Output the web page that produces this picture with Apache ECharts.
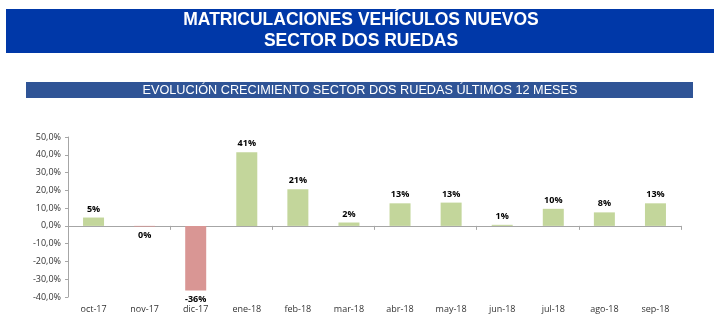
<!DOCTYPE html>
<html>
<head>
<meta charset="utf-8">
<script src="https://cdn.jsdelivr.net/npm/echarts@6/dist/echarts.min.js"></script>
<style>
  html, body { margin: 0; padding: 0; background: #ffffff; }
  #chart { width: 722px; height: 334px; }
</style>
</head>
<body>
<div id="chart"></div>
<script>
// Monthly growth of two-wheeler registrations (%), last 12 months
const months = ['oct-17', 'nov-17', 'dic-17', 'ene-18', 'feb-18', 'mar-18',
                'abr-18', 'may-18', 'jun-18', 'jul-18', 'ago-18', 'sep-18'];
const growth = [4.7, -0.4, -36.4, 41.4, 20.6, 1.9, 12.7, 13.1, 0.6, 9.6, 7.6, 12.7];
const yTicks = [-40, -30, -20, -10, 0, 10, 20, 30, 40, 50];

const titleLines = ['MATRICULACIONES VEHÍCULOS NUEVOS', 'SECTOR DOS RUEDAS'];
const subtitle = 'EVOLUCIÓN CRECIMIENTO SECTOR DOS RUEDAS ÚLTIMOS 12 MESES';

const POS = '#C3D69B';
const NEG = '#D99694';

const chart = echarts.init(document.getElementById('chart'), null, { renderer: 'canvas' });

const fmtAxis = v => v.toFixed(1).replace('.', ',') + '%';

chart.setOption({
  animation: false,
  backgroundColor: '#ffffff',
  graphic: [
    { type: 'rect', shape: { x: 6, y: 9, width: 708, height: 44 }, style: { fill: '#0038A8' } },
    { type: 'text', x: 361, y: 20, style: { text: titleLines[0], fill: '#ffffff',
      font: 'bold 17.5px "Liberation Sans", Arial, sans-serif', align: 'center', verticalAlign: 'middle' } },
    { type: 'text', x: 361, y: 41, style: { text: titleLines[1], fill: '#ffffff',
      font: 'bold 17.5px "Liberation Sans", Arial, sans-serif', align: 'center', verticalAlign: 'middle' } },
    { type: 'rect', shape: { x: 26, y: 82, width: 667, height: 16 }, style: { fill: '#2F5496' } },
    { type: 'text', x: 360, y: 90, style: { text: subtitle, fill: '#ffffff',
      font: '12.7px "Liberation Sans Narrow", "Liberation Sans", Arial, sans-serif', align: 'center', verticalAlign: 'middle' } }
  ],
  grid: { left: 68, right: 41, top: 137, bottom: 37 },
  xAxis: [
    {
      type: 'category', data: months, position: 'bottom',
      axisLine: { onZero: true, lineStyle: { color: '#a6a6a6', width: 1 } },
      axisTick: { show: true, alignWithLabel: false, length: 4, lineStyle: { color: '#a6a6a6' } },
      axisLabel: { show: false },
      splitLine: { show: false }
    },
    {
      type: 'category', data: months, position: 'bottom',
      axisLine: { show: false }, axisTick: { show: false },
      axisLabel: { color: '#333333', fontSize: 9, fontFamily: '"Open Sans", "Liberation Sans", sans-serif', margin: 8 },
      splitLine: { show: false }
    }
  ],
  yAxis: {
    type: 'value', min: -40, max: 50, interval: 10,
    axisLine: { show: true, lineStyle: { color: '#a6a6a6' } },
    axisTick: { show: true, length: 3, lineStyle: { color: '#a6a6a6' } },
    axisLabel: { color: '#333333', fontSize: 9, fontFamily: '"Open Sans", "Liberation Sans", sans-serif', margin: 7,
      formatter: v => yTicks.includes(v) ? fmtAxis(v) : '' },
    splitLine: { show: false }
  },
  series: [{
    type: 'bar',
    xAxisIndex: 0,
    barWidth: 21,
    data: growth.map(v => ({
      value: v,
      itemStyle: { color: v < 0 ? NEG : POS },
      label: { position: v < 0 ? 'bottom' : 'top' }
    })),
    label: {
      show: true, distance: 4,
      color: '#000000', fontSize: 9, fontWeight: 'bold',
      fontFamily: '"Open Sans", "Liberation Sans", sans-serif',
      formatter: p => Math.round(Math.abs(p.value)) === 0 ? '0%' : Math.round(p.value) + '%'
    }
  }]
});
</script>
</body>
</html>
